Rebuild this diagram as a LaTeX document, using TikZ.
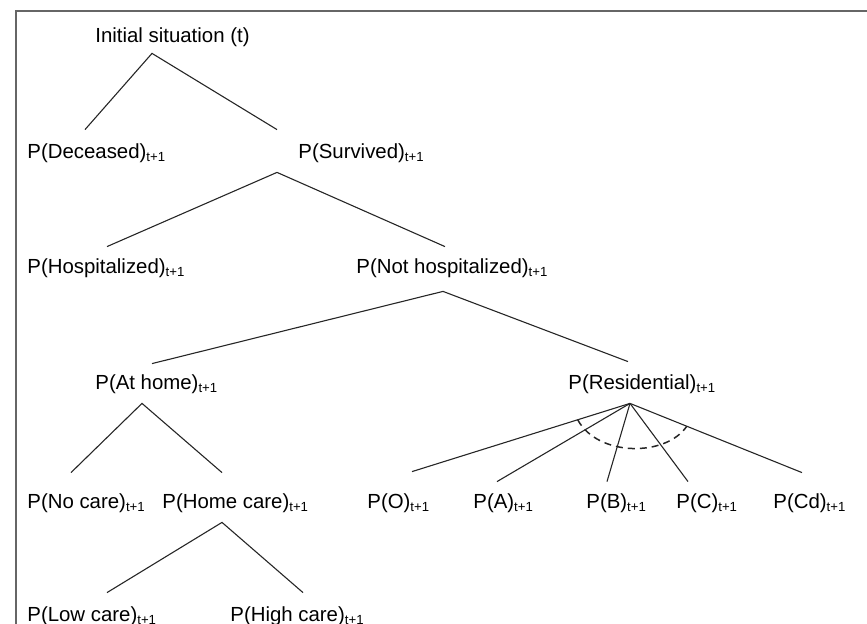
\documentclass[tikz,border=0pt]{standalone}
\usepackage{fontspec}
\setmainfont{Liberation Sans}
\usetikzlibrary{calc}
\newcommand{\tnext}{\textsubscript{\fontsize{6.6}{7}\selectfont t+1}}

\tikzset{
  state/.style={anchor=west,inner sep=0pt,minimum height=20pt,text height=9.3pt,text depth=2.1pt},
  branch/.style={line width=0.55pt,black!85},
}

\begin{document}
\begin{tikzpicture}[x=0.5pt,y=-0.5pt,font=\fontsize{10.2}{12}\selectfont]
\useasboundingbox (0,0) rectangle (867,624);
\draw[line width=1pt,black!60] (16,624) -- (16,11) -- (867,11);

% states, level by level
\node[state] (init) at (95,35) {Initial situation (t)};
\node[state] (dec) at (27,151) {P(Deceased)\tnext};
\node[state] (surv) at (298,151) {P(Survived)\tnext};
\node[state] (hosp) at (27,266) {P(Hospitalized)\tnext};
\node[state] (nhosp) at (356,266) {P(Not hospitalized)\tnext};
\node[state] (home) at (95,382) {P(At home)\tnext};
\node[state] (resid) at (568,382) {P(Residential)\tnext};
\node[state] (nocare) at (27,501) {P(No care)\tnext};
\node[state] (hcare) at (162,501) {P(Home care)\tnext};
\node[state] (pO) at (367,501) {P(O)\tnext};
\node[state] (pA) at (473,501) {P(A)\tnext};
\node[state] (pB) at (586,501) {P(B)\tnext};
\node[state] (pC) at (676,501) {P(C)\tnext};
\node[state] (pCd) at (773,501) {P(Cd)\tnext};
\node[state] (low) at (27,614) {P(Low care)\tnext};
\node[state] (high) at (230,614) {P(High care)\tnext};

% branches
\draw[branch] ($(dec.north west)+(58,-1)$) -- ($(init.south west)+(57,-2)$) -- ($(surv.north west)+(-21,-1)$);
\draw[branch] ($(hosp.north west)+(80,1)$) -- ($(surv.south west)+(-21,1)$) -- ($(nhosp.north west)+(89,1)$);
\draw[branch] ($(home.north west)+(57,2)$) -- ($(nhosp.south west)+(87,5)$) -- ($(resid.north west)+(60,0)$);
\draw[branch] ($(nocare.north west)+(44,-8)$) -- ($(home.south west)+(47,1)$) -- ($(hcare.north west)+(60,-8)$);
\draw[branch] ($(low.north west)+(80,-1)$) -- ($(hcare.south west)+(60,1)$) -- ($(high.north west)+(73,-1)$);

\coordinate (rfork) at ($(resid.south west)+(62,1)$);
\foreach \s/\dx/\dy in {pO/45/-9,pA/24/1,pB/21/1,pC/12/1,pCd/29/-8}
  \draw[branch] (rfork) -- ($(\s.north west)+(\dx,\dy)$);
\draw[branch,line width=0.75pt,dash pattern=on 3.5pt off 2.5pt]
  ($(rfork)!0.24!($(pO.north west)+(45,-9)$)$) .. controls (598,457) and (666,457) .. ($(rfork)!0.33!($(pCd.north west)+(29,-8)$)$);
\end{tikzpicture}
\end{document}
